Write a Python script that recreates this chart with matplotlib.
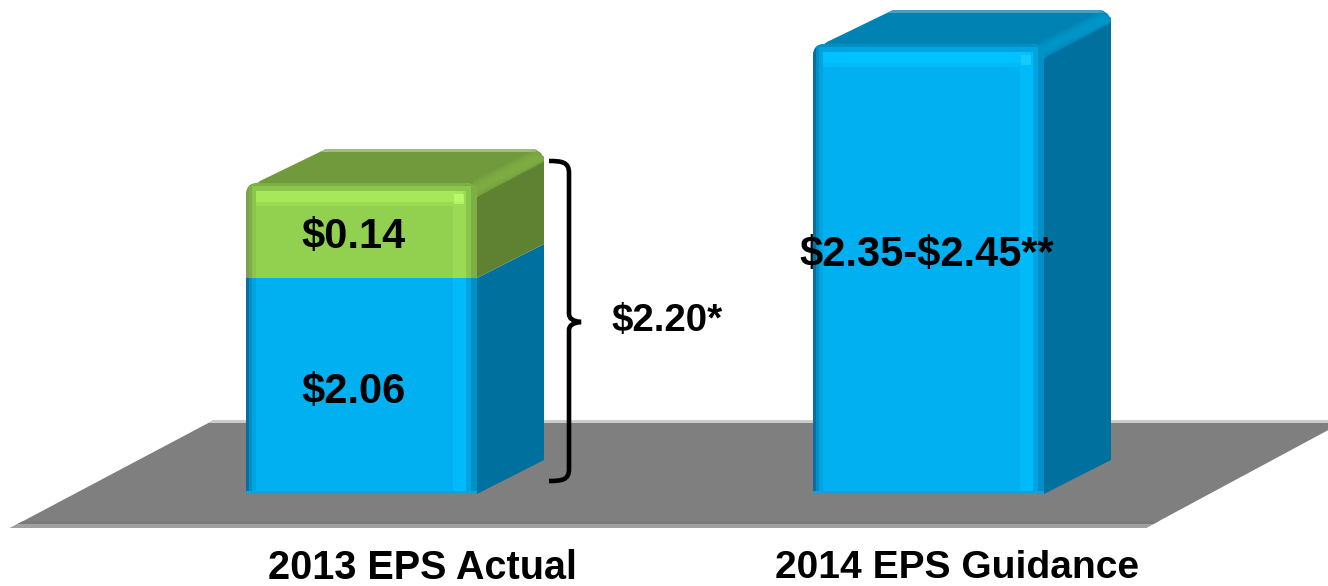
import matplotlib
matplotlib.use("Agg")
import matplotlib.pyplot as plt
from matplotlib.patches import Polygon, Rectangle, PathPatch
from matplotlib.path import Path

plt.rcParams['font.family'] = ['Liberation Sans', 'DejaVu Sans']

# Data (the segments are drawn to the picture's own non-linear scale, in chart units)
categories = ["2013 EPS Actual", "2014 EPS Guidance"]
segment_labels = [[r"\$2.06", r"\$0.14"], [r"\$2.35-\$2.45**"]]
segment_heights = [[216, 95], [450]]
total_label = r"\$2.20*"

# Layout
W, H = 1328, 586
BASE = 494
BAR_W = 231
DX, DY = 67, 34
BAR_X = [246, 813]
LABEL_X = [354, 927]
LABEL_Y = [[392, 237], [255]]
BLUE = dict(main="#00B0F0", hi="#00BAFA", top_hi="#00C2FF", corner="#20D0FF", edge1="#0A6E9C", edge2="#0090C6",
            edge3="#00A4E0", side="#00709F", top="#0083B3", rim="#44A0C8", chamfer="#0098CC", base="#1A9FD0")
GREEN = dict(main="#92D050", hi="#9ADA54", top_hi="#A6E85A", corner="#C0FF70", edge1="#7E9E50", edge2="#7DB044",
             edge3="#8AC64C", side="#5F8232", top="#719A3C", rim="#A3BC80", chamfer="#80B044", base="#92D050")
PALETTES = [[BLUE, GREEN], [BLUE]]

fig = plt.figure(figsize=(W / 100, H / 100), dpi=100)
ax = fig.add_axes([0, 0, 1, 1])
ax.set_xlim(0, W)
ax.set_ylim(H, 0)
ax.axis("off")

# Floor
floor = Polygon([(214, 420), (1347, 420), (1146, 528), (10, 528)], closed=True, fc="#7F7F7F", ec="none", zorder=1)
ax.add_patch(floor)
for y0, y1, c in [(420, 423, "#CCCCCC"), (521, 524, "#7B7B7B"), (524, 528, "#A0A0A0")]:
    r = Rectangle((0, y0), W, y1 - y0, fc=c, ec="none", zorder=1.1)
    ax.add_patch(r)
    r.set_clip_path(floor)


def front_shape(x, y_top, y_bot, rounded):
    xr = x + BAR_W
    if rounded:
        R = 12
        verts = [(x, y_bot), (x, y_top + R), (x, y_top), (x + R, y_top), (xr - R, y_top),
                 (xr, y_top), (xr, y_top + R), (xr, y_bot), (x, y_bot)]
        codes = [Path.MOVETO, Path.LINETO, Path.CURVE3, Path.CURVE3, Path.LINETO,
                 Path.CURVE3, Path.CURVE3, Path.LINETO, Path.CLOSEPOLY]
    else:
        verts = [(x, y_bot), (x, y_top), (xr, y_top), (xr, y_bot), (x, y_bot)]
        codes = [Path.MOVETO, Path.LINETO, Path.LINETO, Path.LINETO, Path.CLOSEPOLY]
    return Path(verts, codes)


def front_segment(x, y_top, y_bot, p, is_top, is_bottom, z):
    clip = PathPatch(front_shape(x, y_top, y_bot, is_top), fc=p["main"], ec="none", zorder=z)
    ax.add_patch(clip)
    strips = [(0, 3, p["edge1"]), (3, 6, p["edge2"]), (6, 10, p["edge3"]),
              (BAR_W - 24, BAR_W - 11, p["hi"]), (BAR_W - 11, BAR_W - 6, p["edge3"]), (BAR_W - 6, BAR_W, p["edge2"])]
    for a, b, c in strips:
        r = Rectangle((x + a, y_top), b - a, y_bot - y_top, fc=c, ec="none", zorder=z + 0.1)
        ax.add_patch(r)
        r.set_clip_path(clip)
    if is_top:
        for a, b, c, inset_l, inset_r in [(0, 3, p["edge2"], 3, 5), (3, 8, p["edge3"], 6, 11),
                                          (8, 19, p["top_hi"], 10, 14), (19, 23, p["hi"], 10, 24)]:
            r = Rectangle((x + inset_l, y_top + a), BAR_W - inset_l - inset_r, b - a, fc=c, ec="none", zorder=z + 0.2)
            ax.add_patch(r)
            r.set_clip_path(clip)
        ax.add_patch(Rectangle((x + BAR_W - 23, y_top + 11), 10, 10, fc=p["corner"], ec="none", alpha=0.7, zorder=z + 0.3))
    if is_bottom:
        ax.add_patch(Rectangle((x, y_bot - 3), BAR_W, 3, fc=p["base"], ec="none", zorder=z + 0.2))


for x, heights, labels, pals, lx, lys in zip(BAR_X, segment_heights, segment_labels, PALETTES, LABEL_X, LABEL_Y):
    y = BASE
    n = len(heights)
    for i, (h, lab, p, ly) in enumerate(zip(heights, labels, pals, lys)):
        y_bot, y = y, y - h
        top = i == n - 1
        xr = x + BAR_W
        # Side face
        if top:
            pts = [(xr, y_bot), (xr + DX, y_bot - DY), (xr + DX, y - DY + 8), (xr + DX - 8, y - DY + 1), (xr, y + 14)]
        else:
            pts = [(xr, y_bot), (xr + DX, y_bot - DY), (xr + DX, y - DY), (xr, y)]
        ax.add_patch(Polygon(pts, closed=True, fc=p["side"], ec="none", zorder=3))
        if top:
            # Top face with rounded corners
            topface = [(x + 3, y + 6), (x + 14, y - 2), (x + DX + 13, y - DY), (xr + DX - 10, y - DY),
                       (xr + DX - 3, y - DY + 4), (xr + DX, y - DY + 12), (xr, y + 14)]
            ax.add_patch(Polygon(topface, closed=True, fc=p["top"], ec="none", zorder=3.2))
            ax.add_patch(Polygon([(x + DX + 13, y - DY), (xr + DX - 10, y - DY), (xr + DX - 7, y - DY + 3), (x + DX + 8, y - DY + 3)],
                                 closed=True, fc=p["rim"], ec="none", zorder=3.3))
            # Soft bevel along the ridge between top and side faces
            for spread, alpha in [(9, 0.35), (6, 0.45), (3, 0.6)]:
                ax.add_patch(Polygon([(xr - 4, y + 7 - spread), (xr + DX - 8, y - DY + 9 - spread), (xr + DX, y - DY + 8),
                                      (xr + DX, y - DY + 9 + spread * 0.5), (xr - 4, y + 7 + spread)],
                                     closed=True, fc=p["chamfer"], ec="none", alpha=alpha, zorder=3.4))
        front_segment(x, y, y_bot, p, top, i == 0, 4 + i)
        ax.text(lx, ly, lab, ha="center", va="center", fontsize=30, fontweight="bold", color="black", zorder=8)

# Brace around the first bar
bx, by0, by1, tip = 569, 161, 481, 581
by_mid = (by0 + by1) / 2 + 1
verts = [(549, by0), (562, by0), (bx, by0 + 1), (bx, by0 + 12),
         (bx, by_mid - 8), (bx, by_mid - 1), (tip, by_mid),
         (bx, by_mid + 1), (bx, by_mid + 8), (bx, by1 - 12),
         (bx, by1 - 1), (562, by1), (549, by1)]
codes = [Path.MOVETO, Path.CURVE4, Path.CURVE4, Path.CURVE4, Path.LINETO, Path.CURVE3, Path.CURVE3,
         Path.CURVE3, Path.CURVE3, Path.LINETO, Path.CURVE4, Path.CURVE4, Path.CURVE4]
ax.add_patch(PathPatch(Path(verts, codes), fc="none", ec="black", lw=3.3, zorder=9))
ax.text(611, 321, total_label, ha="left", va="center", fontsize=27.6, fontweight="bold", color="black", zorder=9)

# Category labels
for cat, cx, fs in zip(categories, [422, 957], [28.5, 28.1]):
    ax.text(cx, 568, cat, ha="center", va="center", fontsize=fs, fontweight="bold", color="black")

fig.savefig("out.png", dpi=100, facecolor="white")
